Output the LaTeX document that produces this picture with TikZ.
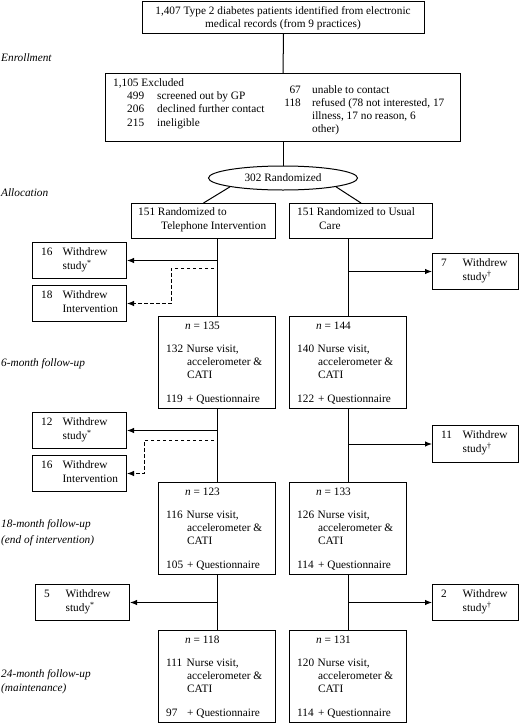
\documentclass[tikz,border=0pt]{standalone}
\usepackage{fontspec}
\setmainfont{Liberation Serif}
\usetikzlibrary{shapes.geometric,arrows.meta}
\newcommand\bx[5]{\node[box,minimum width=#4pt-#2pt,minimum height=#5pt-#3pt] (#1) at (#2,#3) {};}
\newcommand\tx[4]{\node[txt] (#1) at (#2,#3) {#4};}
\newcommand\fu[6]{%
 \node[box,minimum width=117pt,minimum height=92pt] (#1) at (#2,#3) {};
 \node[txt] (#1n) at (#2+27,#3+11) {\textit{n} = #4};
 \node[txt] (#1a) at (#2+8,#3+34) {#5};
 \node[txt] (#1b) at (#2+28.5,#3+34) {Nurse visit,};
 \node[txt] (#1c) at (#2+29,#3+47) {accelerometer \&};
 \node[txt] (#1d) at (#2+29,#3+60) {CATI};
 \node[txt] (#1e) at (#2+8,#3+84) {#6};
 \node[txt] (#1f) at (#2+29,#3+84) {+ Questionnaire};}
\newcommand\wbox[7]{%
 \node[box,minimum width=#4pt-#2pt,minimum height=#5pt-#3pt] (#1) at (#2,#3) {};
 \node[txt] (#1a) at (#2+9,#3+11) {#6};
 \node[txt] (#1b) at (#2+30.5,#3+11) {Withdrew};
 \node[txt] (#1c) at (#2+30.5,#3+24.5) {#7};}
\begin{document}
\begin{tikzpicture}[x=1pt,y=-1pt,
  every node/.style={font=\fontsize{11.3}{13}\selectfont},
  box/.style={draw,line width=1pt,inner sep=0pt,anchor=north west},
  txt/.style={anchor=west,inner sep=0pt,text height=8pt,text depth=2.3pt},
  lbl/.style={txt,font=\fontsize{11.3}{13}\selectfont\itshape},
  ln/.style={line width=1pt},
  arr/.style={ln,-{Latex[length=7pt,width=5.5pt]}},
  dsh/.style={arr,dash pattern=on 3.5pt off 2.5pt}]
\useasboundingbox (0,0) rectangle (520,723);
% top
\node[box,minimum width=282pt,minimum height=32pt] (top) at (142,1) {};
\node[align=center,inner sep=0pt] (toptext) at (283,18.5)
  {1,407 Type 2 diabetes patients identified from electronic\\medical records (from 9 practices)};
% left labels
\node[lbl] (lab1) at (1,59) {Enrollment};
\node[lbl] (lab2) at (1,194) {Allocation};
\node[lbl] (lab3) at (1,364) {6-month follow-up};
\node[lbl] (lab4) at (1,525) {18-month follow-up};
\node[lbl] (lab5) at (1,541) {(end of intervention)};
\node[lbl] (lab6) at (1,675) {24-month follow-up};
\node[lbl] (lab7) at (1,689) {(maintenance)};
% excluded
\bx{excl}{105}{73}{460}{141}
\tx{e0}{113}{84}{1,105 Excluded}
\tx{e1}{127}{97}{499}
\tx{e2}{157}{97}{screened out by GP}
\tx{e3}{127}{110}{206}
\tx{e4}{157}{110}{declined further contact}
\tx{e5}{127}{124}{215}
\tx{e6}{157}{124}{ineligible}
\node[txt,anchor=east] (e7) at (301,91) {67};
\tx{e8}{312}{91}{unable to contact}
\node[txt,anchor=east] (e9) at (301,104) {118};
\tx{e10}{312}{104}{refused (78 not interested, 17}
\tx{e11}{312}{117}{illness, 17 no reason, 6}
\tx{e12}{312}{130}{other)}
% randomized
\node[draw,ln,ellipse,minimum width=149pt,minimum height=24pt,inner sep=0pt] (ell) at (283,178) {302 Randomized};
% allocation boxes
\bx{L1}{131}{203}{275}{238}
\tx{l1a}{138}{213}{151 Randomized to}
\tx{l1b}{161}{227}{Telephone Intervention}
\bx{R1}{289}{203}{432}{238}
\tx{r1a}{297}{213}{151 Randomized to Usual}
\tx{r1b}{319}{227}{Care}
% follow-up boxes
\fu{L2}{158}{316}{135}{132}{119}
\fu{R2}{289}{316}{144}{140}{122}
\fu{L3}{158}{482}{123}{116}{105}
\fu{R3}{289}{482}{133}{126}{114}
\fu{L4}{158}{630}{118}{111}{97}
\fu{R4}{289}{630}{131}{120}{114}
% withdrew boxes
\wbox{W16}{32}{242}{126}{278}{16}{study\textsuperscript{*}}
\wbox{W18}{32}{285}{126}{321}{18}{Intervention}
\wbox{W7}{432}{253}{518}{289}{7}{study\textsuperscript{†}}
\wbox{W12}{32}{412}{126}{448}{12}{study\textsuperscript{*}}
\wbox{W16b}{32}{455}{126}{491}{16}{Intervention}
\wbox{W11}{432}{425}{518}{462}{11}{study\textsuperscript{†}}
\wbox{W5}{35}{584}{129}{620}{5}{study\textsuperscript{*}}
\wbox{W2}{432}{584}{518}{620}{2}{study\textsuperscript{†}}
% connectors
\draw[ln] (top.south) -- (excl.north);
\draw[ln] (excl.south) -- (ell.north);
\draw[ln] (ell.south west) -- (L1.north);
\draw[ln] (ell.south east) -- (R1.north);
\draw[ln] (L2.north |- L1.south) -- (L2.north);
\draw[ln] (L2.south) -- (L3.north);
\draw[ln] (L3.south) -- (L4.north);
\draw[ln] (R2.north |- R1.south) -- (R2.north);
\draw[ln] (R2.south) -- (R3.north);
\draw[ln] (R3.south) -- (R4.north);
\coordinate (d1) at (214,268);
\coordinate (d1c) at (171,268);
\coordinate (d2) at (214,440);
\coordinate (d2c) at (144,440);
\draw[arr] (L2.north |- W16.east) -- (W16.east);
\draw[dsh] (d1) -- (d1c) |- (W18.east);
\draw[arr] (R2.north |- W7.west) -- (W7.west);
\draw[arr] (L2.south |- W12.east) -- (W12.east);
\draw[dsh] (d2) -- (d2c) |- (W16b.east);
\draw[arr] (R2.south |- W11.west) -- (W11.west);
\draw[arr] (L3.south |- W5.east) -- (W5.east);
\draw[arr] (R3.south |- W2.west) -- (W2.west);
\end{tikzpicture}
\end{document}
